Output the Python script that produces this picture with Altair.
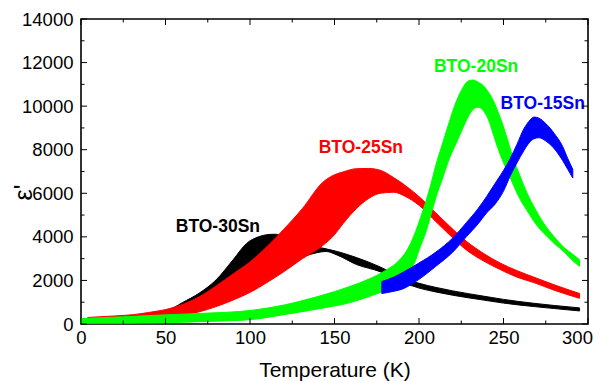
import altair as alt
import pandas as pd

# ---------------- data ----------------
# BTO-30Sn (black): temperature grid, upper (low-freq) and lower (high-freq) edges of the band
t30 = [2, 10, 20, 30, 40, 50, 60, 70, 80, 90, 98, 105, 110, 115, 120, 125, 132, 140, 145, 152, 163, 177, 189, 200, 210, 220, 238, 250, 268, 280, 295]
hi30 = [50, 80, 130, 200, 320, 560, 980, 1420, 2030, 2950, 3700, 4000, 4100, 4120, 4030, 3880, 3700, 3530, 3450, 3320, 3050, 2620, 2150, 1870, 1680, 1520, 1280, 1130, 950, 850, 740]
lo30 = [20, 40, 60, 100, 160, 250, 400, 600, 900, 1300, 1650, 2000, 2250, 2480, 2700, 2880, 3100, 3280, 3330, 3150, 2730, 2400, 1950, 1650, 1470, 1320, 1100, 960, 800, 710, 600]

# BTO-25Sn (red)
t25 = [4, 20, 31, 40, 50, 62, 70, 80, 90, 100, 110, 120, 131, 143, 150, 155, 163, 170, 177, 185, 192, 200, 208, 218, 228, 238, 248, 258, 268, 280, 295]
hi25 = [300, 370, 430, 530, 660, 960, 1250, 1750, 2300, 2850, 3550, 4350, 5300, 6500, 6850, 6980, 7130, 7140, 7060, 6720, 6350, 5850, 5250, 4500, 3800, 3250, 2800, 2450, 2150, 1800, 1400]
lo25 = [80, 110, 150, 200, 280, 420, 560, 800, 1100, 1450, 1900, 2400, 3000, 3600, 4100, 4600, 5300, 5750, 6000, 6050, 5850, 5450, 4850, 4100, 3400, 2900, 2500, 2150, 1900, 1550, 1180]

# BTO-20Sn (green)
t20 = [0, 25, 50, 75, 100, 120, 140, 160, 170, 180, 188, 193, 197, 201, 204, 207, 210, 214, 218, 222, 226, 229, 232, 235, 238, 241, 244, 247, 250, 253, 256, 260, 264, 269, 274, 280, 286, 291, 295]
hi20 = [250, 330, 420, 500, 620, 870, 1260, 1750, 2050, 2450, 2900, 3400, 4050, 4900, 5600, 6400, 7300, 8300, 9300, 10200, 10850, 11150, 11200, 11100, 10950, 10650, 10250, 9700, 9050, 8300, 7550, 6750, 6000, 5250, 4600, 4000, 3500, 3200, 2950]
lo20 = [30, 40, 60, 120, 200, 430, 690, 1000, 1250, 1550, 1900, 2300, 2750, 3600, 4200, 5000, 5800, 6700, 7600, 8300, 9000, 9500, 9850, 9950, 9800, 9400, 8700, 8000, 7400, 6900, 6350, 5700, 5200, 4600, 4150, 3700, 3300, 2900, 2650]

# BTO-15Sn (blue)
t15 = [178, 185, 190, 200, 210, 220, 228, 235, 240, 245, 250, 254, 258, 262, 265, 268, 271, 275, 280, 285, 288, 291]
hi15 = [1950, 2150, 2350, 2800, 3300, 3950, 4650, 5300, 5850, 6450, 7050, 7600, 8250, 8950, 9300, 9500, 9450, 9200, 8750, 8150, 7600, 7100]
lo15 = [1400, 1500, 1600, 2050, 2650, 3300, 4000, 4600, 5100, 5500, 6100, 6800, 7400, 7950, 8300, 8500, 8550, 8400, 8050, 7500, 7100, 6700]

# sample labels
lab_text = ["BTO-30Sn", "BTO-25Sn", "BTO-20Sn", "BTO-15Sn"]
lab_t = [81, 165.6, 233.8, 273.2]
lab_e = [4460, 8070, 11780, 10090]
lab_col = ["#000000", "#ff0000", "#00ff00", "#0000ff"]

# axis ticks
x_major = [0, 50, 100, 150, 200, 250, 300]
x_minor = [25, 75, 125, 175, 225, 275]
y_major = [0, 2000, 4000, 6000, 8000, 10000, 12000, 14000]
y_minor = [1000, 3000, 5000, 7000, 9000, 11000, 13000]

W, H = 507, 305
FONT = "Liberation Sans"

xs = alt.Scale(domain=[0, 300], nice=False, zero=False)
ys = alt.Scale(domain=[0, 14000], nice=False)

xaxis = alt.Axis(values=x_major, format="d", ticks=False, domain=False, grid=False,
                 labelFont=FONT, labelFontSize=18.5, labelColor="#000", labelPadding=4,
                 labelFlush=False, labelOverlap=False,
                 labelOffset=alt.ExprRef("datum.value >= 300 ? -11 : 0"),
                 title="Temperature (K)", titleFont=FONT, titleFontSize=21,
                 titleFontWeight="normal", titleColor="#000", titleY=52,
                 titleBaseline="alphabetic")
yaxis = alt.Axis(values=y_major, format="d", ticks=False, domain=False, grid=False,
                 labelFont=FONT, labelFontSize=18.5, labelColor="#000", labelPadding=8,
                 labelFlush=False, labelOverlap=False,
                 title="ε'", titleFont=FONT, titleFontSize=25, titleFontWeight="normal",
                 titleColor="#000", titleAngle=270, titleX=-50, titleY=173,
                 titleAlign="center", titleBaseline="alphabetic")


def X(f):
    return alt.X(f, type="quantitative", scale=xs, axis=xaxis)


def Y(f):
    return alt.Y(f, type="quantitative", scale=ys, axis=yaxis)


def band(t, lo, hi, color):
    df = pd.DataFrame({"T": t, "lo": lo, "hi": hi})
    return alt.Chart(df).mark_area(color=color, interpolate="monotone", opacity=1,
                                   stroke=color, strokeWidth=1).encode(
        x=X("T"), y=Y("lo"), y2="hi")


layers = [
    band(t30, lo30, hi30, "#000000"),
    band(t25, lo25, hi25, "#ff0000"),
    band(t20, lo20, hi20, "#00ff00"),
    band(t15, lo15, hi15, "#0000ff"),
]

labels_df = pd.DataFrame({"T": lab_t, "e": lab_e, "txt": lab_text, "c": lab_col})
layers.append(alt.Chart(labels_df).mark_text(font=FONT, fontSize=17.5, fontWeight="bold",
                                              align="center", baseline="middle").encode(
    x=X("T"), y=Y("e"), text="txt:N", color=alt.Color("c:N", scale=None)))


def vticks(vals, length, side):
    df = pd.DataFrame({"v": vals})
    if side == "left":
        enc = dict(y=Y("v"), x=alt.value(0), x2=alt.value(length))
    else:
        enc = dict(y=Y("v"), x=alt.value(W), x2=alt.value(W - length))
    return alt.Chart(df).mark_rule(color="#000", strokeWidth=1).encode(**enc)


def hticks(vals, length, side):
    df = pd.DataFrame({"v": vals})
    if side == "bottom":
        enc = dict(x=X("v"), y=alt.value(H), y2=alt.value(H - length))
    else:
        enc = dict(x=X("v"), y=alt.value(0), y2=alt.value(length))
    return alt.Chart(df).mark_rule(color="#000", strokeWidth=1).encode(**enc)


layers += [
    vticks(y_major, 6, "left"), vticks(y_minor, 3.5, "left"),
    vticks(y_major, 6, "right"), vticks(y_minor, 3.5, "right"),
    hticks(x_major, 6, "bottom"), hticks(x_minor, 3.5, "bottom"),
    hticks(x_major, 6, "top"), hticks(x_minor, 3.5, "top"),
]

chart = alt.layer(*layers).properties(
    width=W, height=H,
    autosize=alt.AutoSizeParams(type="none"),
    padding={"left": 73, "top": 11, "right": 6, "bottom": 57},
    background="white",
).configure_view(stroke="#000", strokeWidth=1.6)

chart.save("out.html", embed_options={"renderer": "svg", "actions": False})
